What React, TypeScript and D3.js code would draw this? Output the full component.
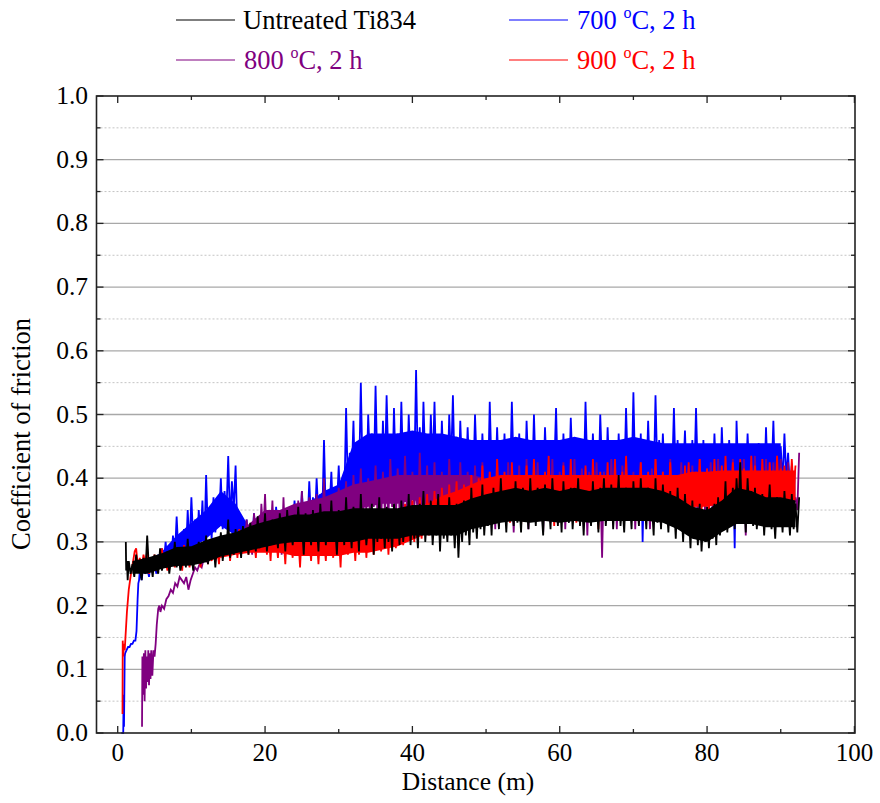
import React from "react";
import * as d3 from "d3";

// ---------- chart data ----------
const STEP = 0.25; // spacing (m) of the regular readings
const CORE_STEP = 2; // spacing (m) of the dense-band readings

const xMajorTicks = [0, 20, 40, 60, 80, 100];
const xMinorTicks = [10, 30, 50, 70, 90];
const yMajorTicks = [0, 0.1, 0.2, 0.3, 0.4, 0.5, 0.6, 0.7, 0.8, 0.9, 1.0];
const yMinorTicks = [0.05, 0.15, 0.25, 0.35, 0.45, 0.55, 0.65, 0.75, 0.85, 0.95];

// Untreated Ti834 (black)
const blackLead: [number, number][] = [[1.1, 0.30], [1.15, 0.255], [1.25, 0.27], [1.35, 0.24]];
const blackStart = 1.5;
const blackVals = [
  0.27, 0.25, 0.265, 0.245, 0.28, 0.255, 0.26, 0.24, 0.275, 0.25, 0.31, 0.255, 0.265, 0.245, 0.28, 0.26, 0.25, 0.29, 0.255, 0.27,
  0.26, 0.285, 0.25, 0.275, 0.265, 0.30, 0.26, 0.28, 0.255, 0.27, 0.29, 0.26, 0.305, 0.265, 0.28, 0.255, 0.29, 0.27, 0.30, 0.265,
  0.285, 0.27, 0.31, 0.265, 0.29, 0.275, 0.30, 0.26, 0.295, 0.28, 0.315, 0.27, 0.30, 0.285, 0.335, 0.275, 0.30, 0.28, 0.32, 0.285,
  0.31, 0.275, 0.325, 0.29, 0.305, 0.28, 0.33, 0.295, 0.31, 0.285, 0.34, 0.29, 0.315, 0.30, 0.345, 0.285, 0.32, 0.295, 0.335, 0.30,
  0.32, 0.29, 0.345, 0.305, 0.33, 0.285, 0.35, 0.31, 0.325, 0.295, 0.34, 0.30, 0.355, 0.31, 0.33, 0.28, 0.345, 0.305, 0.325, 0.295,
  0.35, 0.30, 0.33, 0.285, 0.36, 0.31, 0.335, 0.295, 0.345, 0.305, 0.365, 0.30, 0.33, 0.28, 0.35, 0.31, 0.34, 0.295, 0.37, 0.305,
  0.335, 0.29, 0.355, 0.31, 0.34, 0.285, 0.375, 0.305, 0.345, 0.295, 0.33, 0.31, 0.36, 0.28, 0.345, 0.30, 0.37, 0.305, 0.34, 0.29,
  0.355, 0.30, 0.335, 0.285, 0.36, 0.31, 0.345, 0.295, 0.365, 0.30, 0.34, 0.31, 0.375, 0.295, 0.35, 0.305, 0.335, 0.29, 0.36, 0.31,
  0.38, 0.30, 0.35, 0.315, 0.365, 0.295, 0.345, 0.31, 0.375, 0.285, 0.355, 0.305, 0.34, 0.30, 0.37, 0.31, 0.345, 0.29, 0.36, 0.275,
  0.345, 0.30, 0.365, 0.31, 0.35, 0.295, 0.385, 0.315, 0.355, 0.305, 0.37, 0.32, 0.39, 0.31, 0.36, 0.325, 0.375, 0.31, 0.385, 0.33,
  0.36, 0.32, 0.40, 0.335, 0.365, 0.315, 0.38, 0.34, 0.355, 0.325, 0.395, 0.33, 0.37, 0.315, 0.385, 0.345, 0.36, 0.32, 0.40, 0.335,
  0.37, 0.325, 0.385, 0.34, 0.355, 0.31, 0.39, 0.335, 0.365, 0.32, 0.40, 0.34, 0.37, 0.325, 0.38, 0.315, 0.395, 0.335, 0.36, 0.33,
  0.385, 0.32, 0.365, 0.34, 0.40, 0.325, 0.37, 0.31, 0.38, 0.345, 0.36, 0.325, 0.395, 0.335, 0.37, 0.315, 0.385, 0.34, 0.40, 0.325,
  0.365, 0.335, 0.39, 0.32, 0.375, 0.345, 0.405, 0.325, 0.36, 0.315, 0.385, 0.34, 0.37, 0.32, 0.395, 0.335, 0.365, 0.325, 0.40, 0.34,
  0.37, 0.32, 0.385, 0.335, 0.36, 0.31, 0.40, 0.33, 0.375, 0.32, 0.39, 0.34, 0.36, 0.315, 0.38, 0.325, 0.365, 0.305, 0.385, 0.32,
  0.36, 0.30, 0.375, 0.315, 0.35, 0.29, 0.365, 0.31, 0.345, 0.295, 0.36, 0.285, 0.34, 0.30, 0.355, 0.29, 0.345, 0.305, 0.36, 0.295,
  0.37, 0.31, 0.355, 0.325, 0.395, 0.315, 0.37, 0.34, 0.385, 0.32, 0.40, 0.345, 0.425, 0.33, 0.375, 0.315, 0.40, 0.34, 0.38, 0.325,
  0.385, 0.32, 0.36, 0.33, 0.375, 0.31, 0.365, 0.335, 0.39, 0.32, 0.355, 0.305, 0.37, 0.325, 0.36, 0.315, 0.38, 0.33, 0.355, 0.31,
  0.375, 0.32, 0.36, 0.315, 0.37,
];
const blackCoreStart = 2;
const blackCoreLo = [
  0.25, 0.25, 0.258, 0.262, 0.263, 0.268, 0.277, 0.282, 0.287, 0.292,
  0.297, 0.30, 0.30, 0.30, 0.30, 0.30, 0.305, 0.305, 0.305, 0.31,
  0.31, 0.31, 0.31, 0.32, 0.325, 0.33, 0.333, 0.33, 0.333, 0.33,
  0.333, 0.33, 0.333, 0.333, 0.333, 0.333, 0.33, 0.32, 0.305, 0.30,
  0.315, 0.328, 0.328, 0.323, 0.323, 0.323,
];
const blackCoreHi = [
  0.27, 0.275, 0.282, 0.292, 0.293, 0.303, 0.31, 0.315, 0.325, 0.332,
  0.338, 0.343, 0.343, 0.348, 0.348, 0.353, 0.353, 0.353, 0.353, 0.358,
  0.358, 0.358, 0.358, 0.368, 0.375, 0.38, 0.385, 0.38, 0.385, 0.38,
  0.385, 0.38, 0.385, 0.385, 0.385, 0.385, 0.38, 0.37, 0.355, 0.35,
  0.365, 0.385, 0.38, 0.37, 0.37, 0.365,
];

// 700 °C, 2 h (blue)
const blueLead: [number, number][] = [
  [0.5, 0.0], [0.75, 0.0], [0.8, 0.06], [0.85, 0.01], [0.95, 0.12], [1.0, 0.125],
  [1.2, 0.13], [1.4, 0.135], [1.6, 0.135], [1.8, 0.14], [2.0, 0.14], [2.2, 0.145],
  [2.4, 0.145], [2.55, 0.16], [2.7, 0.21], [2.8, 0.235], [2.9, 0.24],
];
const blueStart = 3.0;
const blueVals = [
  0.255, 0.24, 0.265, 0.25, 0.26, 0.245, 0.275, 0.255, 0.265, 0.25, 0.28, 0.26, 0.29, 0.265, 0.30, 0.27, 0.285, 0.265, 0.31, 0.275,
  0.34, 0.28, 0.30, 0.285, 0.32, 0.275, 0.35, 0.29, 0.37, 0.30, 0.335, 0.285, 0.35, 0.30, 0.365, 0.29, 0.405, 0.31, 0.34, 0.305,
  0.37, 0.315, 0.35, 0.33, 0.40, 0.32, 0.38, 0.34, 0.435, 0.33, 0.395, 0.35, 0.42, 0.31, 0.33, 0.295, 0.32, 0.30, 0.335, 0.295,
  0.325, 0.30, 0.345, 0.305, 0.32, 0.295, 0.335, 0.31, 0.35, 0.30, 0.33, 0.305, 0.34, 0.295, 0.355, 0.31, 0.33, 0.30, 0.345, 0.305,
  0.35, 0.31, 0.335, 0.315, 0.365, 0.32, 0.35, 0.31, 0.38, 0.33, 0.36, 0.32, 0.395, 0.335, 0.37, 0.325, 0.40, 0.34, 0.375, 0.33,
  0.46, 0.34, 0.38, 0.35, 0.41, 0.335, 0.37, 0.355, 0.42, 0.345, 0.385, 0.36, 0.51, 0.38, 0.44, 0.40, 0.49, 0.37, 0.45, 0.39,
  0.55, 0.40, 0.46, 0.38, 0.50, 0.42, 0.47, 0.39, 0.545, 0.41, 0.44, 0.37, 0.49, 0.40, 0.53, 0.42, 0.46, 0.38, 0.51, 0.40,
  0.47, 0.39, 0.52, 0.41, 0.45, 0.38, 0.50, 0.42, 0.46, 0.40, 0.57, 0.41, 0.48, 0.385, 0.52, 0.42, 0.455, 0.39, 0.50, 0.41,
  0.52, 0.40, 0.46, 0.375, 0.49, 0.41, 0.45, 0.385, 0.50, 0.42, 0.53, 0.40, 0.465, 0.38, 0.49, 0.41, 0.45, 0.39, 0.48, 0.40,
  0.46, 0.385, 0.50, 0.41, 0.44, 0.37, 0.47, 0.40, 0.45, 0.38, 0.52, 0.41, 0.46, 0.39, 0.48, 0.40, 0.44, 0.375, 0.47, 0.40,
  0.45, 0.39, 0.52, 0.41, 0.46, 0.38, 0.47, 0.40, 0.44, 0.37, 0.49, 0.41, 0.45, 0.385, 0.50, 0.40, 0.46, 0.39, 0.44, 0.375,
  0.48, 0.40, 0.45, 0.385, 0.46, 0.41, 0.51, 0.39, 0.44, 0.37, 0.47, 0.40, 0.45, 0.385, 0.495, 0.41, 0.46, 0.38, 0.44, 0.40,
  0.46, 0.39, 0.52, 0.41, 0.45, 0.38, 0.47, 0.40, 0.44, 0.385, 0.50, 0.41, 0.455, 0.37, 0.48, 0.40, 0.44, 0.39, 0.46, 0.38,
  0.47, 0.40, 0.45, 0.385, 0.51, 0.41, 0.46, 0.39, 0.535, 0.40, 0.45, 0.38, 0.47, 0.30, 0.44, 0.39, 0.49, 0.40, 0.45, 0.385,
  0.53, 0.41, 0.46, 0.39, 0.47, 0.40, 0.44, 0.375, 0.45, 0.40, 0.51, 0.39, 0.46, 0.38, 0.44, 0.40, 0.475, 0.385, 0.45, 0.37,
  0.46, 0.39, 0.51, 0.40, 0.44, 0.375, 0.46, 0.39, 0.45, 0.40, 0.435, 0.38, 0.47, 0.395, 0.445, 0.37, 0.48, 0.40, 0.45, 0.385,
  0.46, 0.39, 0.44, 0.29, 0.49, 0.40, 0.45, 0.38, 0.44, 0.39, 0.47, 0.40, 0.45, 0.375, 0.43, 0.39, 0.455, 0.40, 0.44, 0.38,
  0.48, 0.39, 0.45, 0.40, 0.49, 0.385, 0.44, 0.37, 0.45, 0.39, 0.47, 0.40, 0.44, 0.38, 0.42,
];
const blueCoreStart = 4;
const blueCoreLo = [
  0.25, 0.263, 0.278, 0.29, 0.305, 0.325, 0.31, 0.298, 0.302, 0.302,
  0.31, 0.325, 0.34, 0.345, 0.385, 0.39, 0.39, 0.395, 0.395, 0.395,
  0.39, 0.39, 0.388, 0.388, 0.388, 0.39, 0.388, 0.388, 0.388, 0.39,
  0.388, 0.388, 0.388, 0.39, 0.388, 0.388, 0.388, 0.388, 0.385, 0.388,
  0.385, 0.385, 0.385, 0.39,
];
const blueCoreHi = [
  0.262, 0.285, 0.31, 0.33, 0.35, 0.38, 0.36, 0.32, 0.325, 0.33,
  0.345, 0.362, 0.38, 0.39, 0.455, 0.47, 0.47, 0.47, 0.475, 0.47,
  0.47, 0.465, 0.46, 0.46, 0.46, 0.465, 0.46, 0.46, 0.46, 0.465,
  0.46, 0.46, 0.46, 0.465, 0.46, 0.455, 0.455, 0.455, 0.455, 0.455,
  0.455, 0.455, 0.455, 0.455,
];

// 800 °C, 2 h (purple)
const purpleLead: [number, number][] = [
  [3.3, 0.01], [3.35, 0.12], [3.45, 0.06], [3.55, 0.125], [3.65, 0.05], [3.75, 0.13],
  [3.85, 0.07], [3.95, 0.12], [4.05, 0.08], [4.15, 0.13], [4.25, 0.075], [4.35, 0.125],
  [4.45, 0.085], [4.55, 0.13], [4.7, 0.09], [4.85, 0.13], [5.0, 0.12], [5.15, 0.14],
  [5.3, 0.17], [5.5, 0.195], [5.65, 0.2], [5.8, 0.19], [6.0, 0.2], [6.3, 0.195],
  [6.6, 0.21], [6.9, 0.215], [7.2, 0.225], [7.5, 0.22], [7.8, 0.235], [8.1, 0.23],
  [8.4, 0.245], [8.7, 0.24], [9.0, 0.235], [9.3, 0.245], [9.6, 0.225], [9.9, 0.24],
  [10.2, 0.25], [10.5, 0.26], [10.8, 0.255], [11.1, 0.265], [11.4, 0.26], [11.7, 0.275],
  [12.0, 0.27], [12.3, 0.28], [12.6, 0.275], [12.9, 0.285], [13.2, 0.28], [13.5, 0.29],
];
const purpleStart = 14.0;
const purpleVals = [
  0.295, 0.28, 0.305, 0.285, 0.31, 0.28, 0.30, 0.29, 0.315, 0.285, 0.305, 0.28, 0.32, 0.29, 0.335, 0.295, 0.31, 0.28, 0.345, 0.30,
  0.33, 0.29, 0.36, 0.31, 0.375, 0.295, 0.34, 0.305, 0.365, 0.285, 0.33, 0.31, 0.35, 0.28, 0.37, 0.30, 0.34, 0.29, 0.355, 0.305,
  0.345, 0.295, 0.365, 0.31, 0.38, 0.30, 0.35, 0.315, 0.37, 0.29, 0.345, 0.32, 0.375, 0.305, 0.36, 0.31, 0.40, 0.315, 0.355, 0.30,
  0.37, 0.315, 0.355, 0.33, 0.385, 0.32, 0.36, 0.335, 0.395, 0.325, 0.375, 0.34, 0.405, 0.33, 0.38, 0.345, 0.415, 0.335, 0.385, 0.35,
  0.40, 0.335, 0.38, 0.355, 0.42, 0.345, 0.39, 0.33, 0.41, 0.35, 0.385, 0.34, 0.43, 0.355, 0.395, 0.335, 0.415, 0.35, 0.39, 0.345,
  0.435, 0.35, 0.395, 0.34, 0.41, 0.355, 0.385, 0.335, 0.44, 0.35, 0.40, 0.345, 0.42, 0.33, 0.39, 0.355, 0.425, 0.345, 0.40, 0.335,
  0.41, 0.35, 0.39, 0.34, 0.43, 0.355, 0.40, 0.345, 0.385, 0.33, 0.425, 0.35, 0.395, 0.34, 0.41, 0.355, 0.39, 0.325, 0.42, 0.345,
  0.40, 0.34, 0.425, 0.35, 0.39, 0.33, 0.41, 0.355, 0.395, 0.32, 0.43, 0.345, 0.40, 0.35, 0.385, 0.335, 0.425, 0.345, 0.40, 0.315,
  0.39, 0.35, 0.42, 0.335, 0.40, 0.345, 0.43, 0.32, 0.395, 0.355, 0.41, 0.34, 0.425, 0.35, 0.385, 0.315, 0.405, 0.345, 0.42, 0.33,
  0.43, 0.345, 0.395, 0.335, 0.41, 0.355, 0.425, 0.32, 0.39, 0.35, 0.40, 0.34, 0.43, 0.355, 0.395, 0.33, 0.415, 0.345, 0.40, 0.31,
  0.41, 0.345, 0.39, 0.335, 0.425, 0.35, 0.40, 0.275, 0.41, 0.35, 0.39, 0.34, 0.43, 0.355, 0.40, 0.32, 0.405, 0.345, 0.42, 0.335,
  0.43, 0.345, 0.40, 0.355, 0.41, 0.32, 0.395, 0.35, 0.425, 0.335, 0.405, 0.355, 0.39, 0.32, 0.415, 0.345, 0.43, 0.35, 0.40, 0.33,
  0.41, 0.35, 0.395, 0.325, 0.43, 0.355, 0.40, 0.335, 0.405, 0.36, 0.425, 0.345, 0.39, 0.335, 0.41, 0.355, 0.42, 0.345, 0.40, 0.33,
  0.43, 0.355, 0.40, 0.34, 0.415, 0.36, 0.425, 0.345, 0.395, 0.35, 0.43, 0.365, 0.405, 0.335, 0.42, 0.355, 0.40, 0.345, 0.43, 0.36,
  0.41, 0.35, 0.395, 0.365, 0.43, 0.31, 0.405, 0.355, 0.42, 0.36, 0.435, 0.345, 0.40, 0.365, 0.415, 0.35, 0.43, 0.36, 0.405, 0.355,
  0.425, 0.36, 0.40, 0.355, 0.43, 0.37, 0.41, 0.35, 0.425, 0.365, 0.405, 0.36, 0.37, 0.35, 0.44,
];
const purpleCoreStart = 14;
const purpleCoreLo = [
  0.285, 0.295, 0.305, 0.31, 0.31, 0.315, 0.32, 0.33, 0.34, 0.35,
  0.355, 0.36, 0.36, 0.365, 0.365, 0.365, 0.36, 0.36, 0.355, 0.355,
  0.355, 0.355, 0.355, 0.355, 0.355, 0.35, 0.355, 0.355, 0.355, 0.355,
  0.36, 0.36, 0.36, 0.365, 0.365, 0.37, 0.37, 0.37, 0.37, 0.37,
];
const purpleCoreHi = [
  0.30, 0.31, 0.33, 0.35, 0.35, 0.36, 0.365, 0.37, 0.38, 0.39,
  0.395, 0.40, 0.405, 0.405, 0.405, 0.405, 0.405, 0.405, 0.40, 0.40,
  0.40, 0.40, 0.40, 0.40, 0.40, 0.40, 0.40, 0.40, 0.40, 0.40,
  0.40, 0.40, 0.405, 0.405, 0.405, 0.41, 0.41, 0.41, 0.41, 0.41,
];

// 900 °C, 2 h (red)
const redLead: [number, number][] = [
  [0.65, 0.03], [0.68, 0.145], [0.75, 0.12], [0.85, 0.14], [0.95, 0.13], [1.05, 0.15],
  [1.25, 0.19], [1.5, 0.225], [1.8, 0.25], [2.1, 0.27], [2.3, 0.285],
];
const redStart = 2.5;
const redVals = [
  0.29, 0.26, 0.275, 0.255, 0.28, 0.265, 0.285, 0.25, 0.27, 0.26, 0.28, 0.255, 0.275, 0.265, 0.29, 0.26, 0.27, 0.255, 0.285, 0.265,
  0.275, 0.26, 0.29, 0.265, 0.28, 0.255, 0.295, 0.27, 0.28, 0.26, 0.285, 0.265, 0.295, 0.27, 0.28, 0.26, 0.29, 0.275, 0.30, 0.265,
  0.29, 0.27, 0.305, 0.28, 0.29, 0.265, 0.31, 0.275, 0.295, 0.28, 0.315, 0.27, 0.30, 0.285, 0.31, 0.275, 0.32, 0.28, 0.305, 0.29,
  0.31, 0.28, 0.32, 0.29, 0.305, 0.275, 0.325, 0.285, 0.31, 0.295, 0.33, 0.28, 0.315, 0.27, 0.325, 0.29, 0.305, 0.275, 0.32, 0.285,
  0.31, 0.265, 0.325, 0.29, 0.30, 0.275, 0.33, 0.285, 0.31, 0.26, 0.32, 0.29, 0.335, 0.28, 0.305, 0.27, 0.325, 0.295, 0.31, 0.265,
  0.32, 0.285, 0.305, 0.27, 0.33, 0.29, 0.31, 0.275, 0.335, 0.285, 0.315, 0.26, 0.325, 0.295, 0.305, 0.28, 0.33, 0.29, 0.315, 0.27,
  0.325, 0.28, 0.31, 0.29, 0.34, 0.275, 0.32, 0.295, 0.305, 0.28, 0.335, 0.29, 0.345, 0.285, 0.32, 0.295, 0.335, 0.28, 0.34, 0.30,
  0.33, 0.29, 0.35, 0.31, 0.335, 0.295, 0.36, 0.30, 0.345, 0.315, 0.365, 0.30, 0.34, 0.31, 0.37, 0.305, 0.35, 0.32, 0.375, 0.31,
  0.36, 0.315, 0.38, 0.33, 0.355, 0.31, 0.385, 0.335, 0.365, 0.32, 0.39, 0.325, 0.37, 0.34, 0.395, 0.325, 0.375, 0.33, 0.39, 0.335,
  0.37, 0.325, 0.405, 0.345, 0.38, 0.335, 0.40, 0.35, 0.42, 0.34, 0.385, 0.33, 0.41, 0.355, 0.39, 0.34, 0.43, 0.35, 0.395, 0.335,
  0.41, 0.35, 0.385, 0.33, 0.425, 0.36, 0.395, 0.345, 0.405, 0.325, 0.38, 0.355, 0.42, 0.345, 0.39, 0.36, 0.43, 0.34, 0.40, 0.35,
  0.385, 0.34, 0.41, 0.36, 0.435, 0.345, 0.39, 0.325, 0.405, 0.355, 0.385, 0.34, 0.42, 0.36, 0.395, 0.345, 0.43, 0.35, 0.40, 0.33,
  0.405, 0.355, 0.385, 0.34, 0.42, 0.35, 0.395, 0.33, 0.43, 0.36, 0.39, 0.32, 0.41, 0.355, 0.385, 0.345, 0.425, 0.34, 0.395, 0.355,
  0.43, 0.345, 0.40, 0.36, 0.41, 0.34, 0.435, 0.355, 0.39, 0.345, 0.405, 0.335, 0.385, 0.36, 0.425, 0.35, 0.395, 0.34, 0.41, 0.355,
  0.39, 0.345, 0.43, 0.36, 0.40, 0.335, 0.41, 0.355, 0.385, 0.34, 0.425, 0.36, 0.395, 0.345, 0.405, 0.35, 0.39, 0.34, 0.42, 0.36,
  0.425, 0.355, 0.40, 0.345, 0.41, 0.365, 0.43, 0.35, 0.395, 0.36, 0.415, 0.345, 0.40, 0.365, 0.43, 0.355, 0.405, 0.37, 0.42, 0.345,
  0.435, 0.36, 0.41, 0.37, 0.425, 0.355, 0.40, 0.365, 0.43, 0.35, 0.415, 0.37, 0.405, 0.36, 0.435, 0.355, 0.42, 0.37, 0.40, 0.36,
  0.43, 0.365, 0.41, 0.355, 0.425, 0.37, 0.40, 0.36, 0.435, 0.375, 0.415, 0.36, 0.42, 0.37, 0.405, 0.365, 0.43, 0.38, 0.42,
];
const redCoreStart = 4;
const redCoreLo = [
  0.26, 0.26, 0.265, 0.266, 0.27, 0.275, 0.28, 0.283, 0.283, 0.283,
  0.278, 0.278, 0.278, 0.278, 0.283, 0.283, 0.288, 0.293, 0.303, 0.313,
  0.323, 0.332, 0.337, 0.342, 0.345, 0.345, 0.345, 0.345, 0.345, 0.345,
  0.345, 0.345, 0.345, 0.345, 0.35, 0.35, 0.35, 0.355, 0.355, 0.36,
  0.36, 0.36, 0.36, 0.365, 0.365,
];
const redCoreHi = [
  0.275, 0.275, 0.28, 0.284, 0.29, 0.30, 0.306, 0.312, 0.317, 0.317,
  0.312, 0.312, 0.312, 0.312, 0.317, 0.317, 0.322, 0.333, 0.35, 0.36,
  0.372, 0.38, 0.39, 0.40, 0.405, 0.405, 0.405, 0.405, 0.405, 0.405,
  0.405, 0.405, 0.405, 0.405, 0.405, 0.405, 0.405, 0.41, 0.41, 0.412,
  0.412, 0.412, 0.412, 0.412, 0.412,
];

// legend
const legendNames = ["Untreated Ti834", "700", "800", "900"];
const legendColors = ["#000000", "#0000ff", "#800080", "#ff0000"];

// ---------- layout ----------
const W = 880;
const H = 803;
const FONT = "'Liberation Serif', 'Times New Roman', Times, serif";

type Series = {
  color: string;
  lead: [number, number][];
  start: number;
  vals: number[];
  coreStart: number;
  coreLo: number[];
  coreHi: number[];
};

const seriesList: Series[] = [
  { color: legendColors[1], lead: blueLead, start: blueStart, vals: blueVals, coreStart: blueCoreStart, coreLo: blueCoreLo, coreHi: blueCoreHi },
  { color: legendColors[2], lead: purpleLead, start: purpleStart, vals: purpleVals, coreStart: purpleCoreStart, coreLo: purpleCoreLo, coreHi: purpleCoreHi },
  { color: legendColors[3], lead: redLead, start: redStart, vals: redVals, coreStart: redCoreStart, coreLo: redCoreLo, coreHi: redCoreHi },
  { color: legendColors[0], lead: blackLead, start: blackStart, vals: blackVals, coreStart: blackCoreStart, coreLo: blackCoreLo, coreHi: blackCoreHi },
];

export default function App() {
  const x = d3.scaleLinear().domain([-2.88, 100.08]).range([96.5, 855]);
  const y = d3.scaleLinear().domain([0, 1]).range([733, 96]);
  const x0 = x.range()[0];
  const x1 = x.range()[1];
  const y0 = y.range()[0];
  const y1 = y.range()[1];

  const line = d3
    .line<[number, number]>()
    .x((d) => x(d[0]))
    .y((d) => y(d[1]));

  const fmtY = d3.format(".1f");

  const legendPos = [
    { lx: 176, ly: 20 },
    { lx: 509, ly: 20 },
    { lx: 176, ly: 60 },
    { lx: 509, ly: 60 },
  ];

  return (
    <svg
      width={W}
      height={H}
      style={{ position: "absolute", left: 0, top: 0, background: "#fff", display: "block" }}
      fontFamily={FONT}
    >
      <rect x={0} y={0} width={W} height={H} fill="#fff" />

      {/* grid */}
      {yMinorTicks.map((t) => (
        <line key={"gm" + t} x1={x0} x2={x1} y1={y(t)} y2={y(t)} stroke="#c4c4c4" strokeWidth={1} strokeDasharray="2,2" />
      ))}
      {yMajorTicks.slice(1, -1).map((t) => (
        <line key={"gM" + t} x1={x0} x2={x1} y1={y(t)} y2={y(t)} stroke="#a8a8a8" strokeWidth={1.3} />
      ))}

      {/* series */}
      {seriesList.map((s, k) => {
        const pts: [number, number][] = [
          ...s.lead,
          ...s.vals.map((v, i) => [s.start + i * STEP, v] as [number, number]),
        ];
        const area = d3
          .area<number>()
          .x((_, i) => x(s.coreStart + i * CORE_STEP))
          .y0((_, i) => y(s.coreLo[i]))
          .y1((_, i) => y(s.coreHi[i]));
        return (
          <g key={"s" + k}>
            <path d={area(s.coreLo) || ""} fill={s.color} stroke="none" />
            <path d={line(pts) || ""} fill="none" stroke={s.color} strokeWidth={1.8} strokeLinejoin="miter" strokeMiterlimit={3} />
          </g>
        );
      })}

      {/* frame */}
      <rect x={x0} y={y1} width={x1 - x0} height={y0 - y1} fill="none" stroke="#222" strokeWidth={1.6} />

      {/* x ticks */}
      {xMajorTicks.map((t) => (
        <g key={"xt" + t}>
          <line x1={x(t)} x2={x(t)} y1={y0} y2={y0 - 7} stroke="#222" strokeWidth={1.3} />
          <line x1={x(t)} x2={x(t)} y1={y1} y2={y1 + 7} stroke="#222" strokeWidth={1.3} />
          <text x={x(t)} y={y0 + 28} textAnchor="middle" fontSize={25} fill="#000">
            {t}
          </text>
        </g>
      ))}
      {xMinorTicks.map((t) => (
        <g key={"xm" + t}>
          <line x1={x(t)} x2={x(t)} y1={y0} y2={y0 - 4} stroke="#222" strokeWidth={1.3} />
          <line x1={x(t)} x2={x(t)} y1={y1} y2={y1 + 4} stroke="#222" strokeWidth={1.3} />
        </g>
      ))}

      {/* y ticks */}
      {yMajorTicks.map((t) => (
        <g key={"yt" + t}>
          <line x1={x0} x2={x0 + 7} y1={y(t)} y2={y(t)} stroke="#222" strokeWidth={1.3} />
          <line x1={x1} x2={x1 - 7} y1={y(t)} y2={y(t)} stroke="#222" strokeWidth={1.3} />
          <text x={88} y={y(t) + 8} textAnchor="end" fontSize={25.5} fill="#000">
            {fmtY(t)}
          </text>
        </g>
      ))}
      {yMinorTicks.map((t) => (
        <g key={"ym" + t}>
          <line x1={x0} x2={x0 + 4} y1={y(t)} y2={y(t)} stroke="#222" strokeWidth={1.3} />
          <line x1={x1} x2={x1 - 4} y1={y(t)} y2={y(t)} stroke="#222" strokeWidth={1.3} />
        </g>
      ))}

      {/* axis titles */}
      <text x={468} y={790} textAnchor="middle" fontSize={25.5} fill="#000">
        Distance (m)
      </text>
      <text
        transform={`translate(30, 434) rotate(-90)`}
        textAnchor="middle"
        fontSize={26.5}
        fill="#000"
      >
        Coefficient of friction
      </text>

      {/* legend */}
      {legendNames.map((name, i) => {
        const p = legendPos[i];
        const c = legendColors[i];
        return (
          <g key={"lg" + i}>
            <line x1={p.lx} x2={p.lx + 59} y1={p.ly} y2={p.ly} stroke={c} strokeWidth={1.2} />
            {i === 0 ? (
              <text x={p.lx + 67} y={p.ly + 9} fontSize={26.5} fill={c}>
                {name}
              </text>
            ) : (
              <text x={p.lx + 68} y={p.ly + 9} fontSize={26.5} fill={c}>
                {name + " "}
                <tspan fontSize={16} dy={-11}>
                  o
                </tspan>
                <tspan dy={11}>C, 2 h</tspan>
              </text>
            )}
          </g>
        );
      })}
    </svg>
  );
}
